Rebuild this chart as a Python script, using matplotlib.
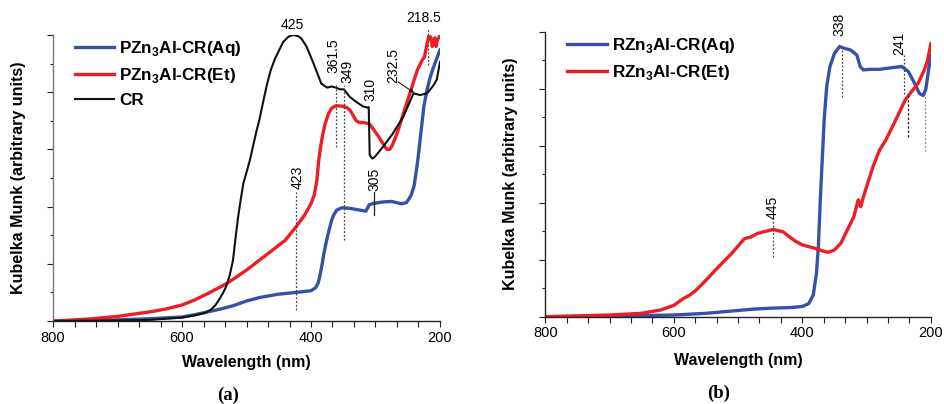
import numpy as np
import matplotlib
matplotlib.use("Agg")
import matplotlib.pyplot as plt
from matplotlib.ticker import MultipleLocator, FixedLocator

plt.rcParams['font.family'] = ['Liberation Sans', 'DejaVu Sans']
plt.rcParams['mathtext.fontset'] = 'custom'
plt.rcParams['mathtext.bf'] = 'Liberation Sans:bold'
plt.rcParams['mathtext.rm'] = 'Liberation Sans'

# ---------------- Panel (a) data ----------------
a_labels = ['PZn$_\\mathbf{3}$Al-CR(Aq)', 'PZn$_\\mathbf{3}$Al-CR(Et)', 'CR']

a_aq_wl = [800, 700, 650, 600, 580, 560, 540, 520, 500, 480, 450, 423, 400, 393, 389, 386, 383, 380,
           376, 372, 368, 365, 360, 352, 340, 325, 315, 312, 310, 305, 290, 275, 260, 252,
           245, 240, 237, 234, 231, 228, 225, 220, 215, 208, 200]
a_aq_v = [0, 0.02, 0.04, 0.07, 0.11, 0.16, 0.21, 0.27, 0.35, 0.41, 0.47, 0.5, 0.53, 0.58, 0.66, 0.8, 0.98, 1.18,
          1.4, 1.59, 1.76, 1.85, 1.94, 1.98, 1.97, 1.94, 1.92, 1.98, 2.03, 2.05, 2.08, 2.09, 2.05, 2.07,
          2.19, 2.37, 2.6, 2.85, 3.15, 3.45, 3.75, 4.05, 4.27, 4.5, 4.74]

a_et_wl = [800, 750, 700, 650, 625, 600, 580, 560, 530, 500, 470, 440, 423, 410, 400, 395, 391, 388, 385,
           382, 378, 373, 368, 362, 355, 349, 343, 338, 334, 330, 325, 320, 315, 310, 305, 300,
           295, 290, 285, 282, 278, 275, 270, 265, 255, 245, 235, 228, 224, 220, 217, 214, 212,
           210, 208, 206, 204, 202, 200]
a_et_v = [0, 0.03, 0.08, 0.16, 0.21, 0.28, 0.37, 0.48, 0.66, 0.89, 1.15, 1.41, 1.65, 1.85, 2.05, 2.2, 2.45, 2.81, 3.05,
          3.25, 3.45, 3.62, 3.72, 3.76, 3.76, 3.75, 3.72, 3.66, 3.58, 3.5, 3.47, 3.47, 3.46, 3.45, 3.38, 3.3,
          3.22, 3.13, 3.04, 3.0, 3.0, 3.05, 3.18, 3.33, 3.69, 4.04, 4.39, 4.55, 4.62, 4.85, 5.0, 4.95, 4.8,
          4.9, 4.95, 4.8, 4.92, 4.95, 5.0]

a_cr_wl = [800, 700, 650, 600, 580, 565, 555, 548, 541, 535, 531, 526, 521, 517, 513, 509, 505, 500,
           495, 490, 485, 480, 474, 468, 462, 456, 450, 443, 435, 428, 420, 415, 407, 396, 384, 375,
           368, 361.5, 355, 349, 340, 330, 319, 312, 310.5, 309, 305, 301, 288, 273, 257, 241, 231,
           220, 210, 205, 200]
a_cr_v = [0, 0.01, 0.02, 0.06, 0.1, 0.14, 0.2, 0.28, 0.4, 0.52, 0.62, 0.8, 1.06, 1.45, 1.82, 2.12, 2.4, 2.6,
          2.8, 3.05, 3.3, 3.52, 3.84, 4.15, 4.4, 4.58, 4.72, 4.88, 4.97, 5.0, 4.98, 4.94, 4.8, 4.5, 4.15, 4.08,
          4.1, 4.08, 4.05, 4.05, 3.92, 3.83, 3.75, 3.73, 3.74, 2.9, 2.84, 2.87, 3.05, 3.28, 3.57, 3.98, 3.95,
          3.98, 4.12, 4.22, 4.53]

# ---------------- Panel (b) data ----------------
b_labels = ['RZn$_\\mathbf{3}$Al-CR(Aq)', 'RZn$_\\mathbf{3}$Al-CR(Et)']

b_aq_wl = [800, 700, 600, 550, 500, 480, 450, 420, 400, 390, 383, 378, 375, 372, 369, 366, 362,
           357, 350, 342, 335, 325, 315, 310, 305, 295, 280, 260, 245, 235, 225, 218, 212, 208, 205, 200]
b_aq_v = [0, 0.01, 0.03, 0.06, 0.11, 0.13, 0.15, 0.16, 0.18, 0.23, 0.38, 0.76, 1.23, 2.05, 2.75, 3.45, 4.04,
          4.39, 4.62, 4.74, 4.71, 4.68, 4.59, 4.39, 4.33, 4.34, 4.34, 4.37, 4.39, 4.30, 4.09, 3.92, 3.88, 3.98, 4.21, 4.59]

b_et_wl = [800, 700, 650, 620, 600, 585, 575, 565, 550, 530, 510, 490, 480, 470, 460, 445, 430,
           420, 410, 400, 380, 370, 360, 350, 340, 330, 320, 313, 311, 309, 305, 300, 290, 280,
           270, 260, 250, 240, 230, 220, 210, 205, 200]
b_et_v = [0, 0.03, 0.06, 0.12, 0.2, 0.32, 0.38, 0.47, 0.64, 0.88, 1.11, 1.37, 1.4, 1.46, 1.49, 1.53, 1.49,
          1.4, 1.32, 1.26, 1.2, 1.16, 1.13, 1.17, 1.29, 1.52, 1.75, 2.05, 2.0, 1.93, 2.1, 2.28, 2.63, 2.92,
          3.1, 3.33, 3.56, 3.8, 3.95, 4.09, 4.33, 4.5, 4.79]

BLUE = '#3453a6'
RED = '#ee1d24'
BLACK = '#111111'

fig = plt.figure(figsize=(9.45, 4.04), dpi=100)
axa = fig.add_axes([0.0561, 0.2054, 0.4095, 0.708])
axb = fig.add_axes([0.577, 0.216, 0.408, 0.7055])


def style_axes(ax, spine_color):
    ax.set_xlim(800, 200)
    ax.set_ylim(0, 5)
    for s in ['top', 'right']:
        ax.spines[s].set_visible(False)
    ax.spines['left'].set_color(spine_color)
    ax.spines['bottom'].set_color('#222222')
    ax.spines['left'].set_linewidth(1.0)
    ax.spines['bottom'].set_linewidth(1.0)
    ax.xaxis.set_major_locator(FixedLocator([800, 600, 400, 200]))
    ax.xaxis.set_minor_locator(MultipleLocator(200 / 6))
    ax.yaxis.set_major_locator(MultipleLocator(1))
    ax.yaxis.set_minor_locator(MultipleLocator(0.5))
    ax.set_yticklabels([])
    ax.tick_params(axis='x', which='both', direction='out', length=4, width=0.8, labelsize=10.5, pad=3,
                   color='#222222')
    ax.tick_params(axis='y', which='major', direction='out', length=4, width=0.8, color='#222222')
    ax.tick_params(axis='y', which='minor', direction='out', length=2, width=0.8, color='#222222')
    ax.set_xlabel('Wavelength (nm)', fontsize=11.5, fontweight='bold')
    ax.set_ylabel('Kubelka Munk (arbitrary units)', fontsize=11.5, fontweight='bold')


style_axes(axa, '#777777')
style_axes(axb, '#222222')

# ---- panel a curves ----
la1, = axa.plot(a_aq_wl, a_aq_v, color=BLUE, lw=2.4, solid_joinstyle='round')
la2, = axa.plot(a_et_wl, a_et_v, color=RED, lw=2.4, solid_joinstyle='round')
la3, = axa.plot(a_cr_wl, a_cr_v, color=BLACK, lw=1.5, solid_joinstyle='round')
axa.legend([la1, la2, la3], a_labels, loc='upper left', bbox_to_anchor=(0.057, 0.985),
           frameon=False, borderpad=0, borderaxespad=0, handlelength=2.3, handletextpad=0.3,
           labelspacing=0.45, prop={'weight': 'bold', 'size': 12.3})

dot = dict(color='#444444', lw=0.9, ls=(0, (1.5, 1.5)))
axa.plot([219, 219], [4.47, 5.12], **dot, clip_on=False)
axa.plot([361.5, 361.5], [3.05, 4.12], **dot)
axa.plot([349, 349], [1.42, 4.12], **dot)
axa.plot([423, 423], [0.19, 2.29], **dot)
axa.plot([303, 303], [1.85, 2.26], color='#222222', lw=0.9)

tkw = dict(fontsize=10, ha='center', va='center', clip_on=False)
axa.text(429, 5.17, '425', **tkw)
axa.text(226, 5.3, '218.5', **tkw)
axa.text(366, 4.63, '361.5', rotation=90, **tkw)
axa.text(343, 4.37, '349', rotation=90, **tkw)
axa.text(308.5, 4.04, '310', rotation=90, **tkw)
axa.text(272.6, 4.46, '232.5', rotation=90, **tkw)
axa.text(420, 2.52, '423', rotation=90, **tkw)
axa.text(302, 2.48, '305', rotation=90, **tkw)
axa.annotate('', xy=(240, 3.99), xytext=(265, 4.18),
             arrowprops=dict(arrowstyle='-|>', lw=0.8, color='#222222', mutation_scale=6,
                             shrinkA=0, shrinkB=0))

# ---- panel b curves ----
lb1, = axb.plot(b_aq_wl, b_aq_v, color=BLUE, lw=2.4, solid_joinstyle='round')
lb2, = axb.plot(b_et_wl, b_et_v, color=RED, lw=2.4, solid_joinstyle='round')
axb.legend([lb1, lb2], b_labels, loc='upper left', bbox_to_anchor=(0.057, 0.985),
           frameon=False, borderpad=0, borderaxespad=0, handlelength=2.3, handletextpad=0.3,
           labelspacing=0.45, prop={'weight': 'bold', 'size': 12.3})

axb.plot([338, 338], [3.86, 4.74], **dot)
axb.plot([241, 241], [3.9, 4.59], **dot)
axb.plot([235.4, 235.4], [3.16, 3.93], color='#222222', lw=0.9, ls=(0, (2, 1.5)))
axb.plot([209.5, 209.5], [2.9, 3.93], color='#888888', lw=0.9, ls=(0, (1.5, 1.5)))
axb.plot([445, 445], [1.04, 1.68], **dot)
axb.text(342, 5.12, '338', rotation=90, **tkw)
axb.text(248.4, 4.8, '241', rotation=90, **tkw)
axb.text(446, 1.92, '445', rotation=90, **tkw)

# axis label positions
axa.yaxis.set_label_coords(-0.07, 0.5)
axb.yaxis.set_label_coords(-0.071, 0.5)
axa.xaxis.set_label_coords(0.5, -0.12)
axb.xaxis.set_label_coords(0.5, -0.127)

fig.text(0.241, 0.022, '(a)', fontsize=13.5, fontweight='bold', family='Liberation Serif',
         ha='center', va='center')
fig.text(0.760, 0.027, '(b)', fontsize=13.5, fontweight='bold', family='Liberation Serif',
         ha='center', va='center')

fig.savefig('out.png', dpi=100)
